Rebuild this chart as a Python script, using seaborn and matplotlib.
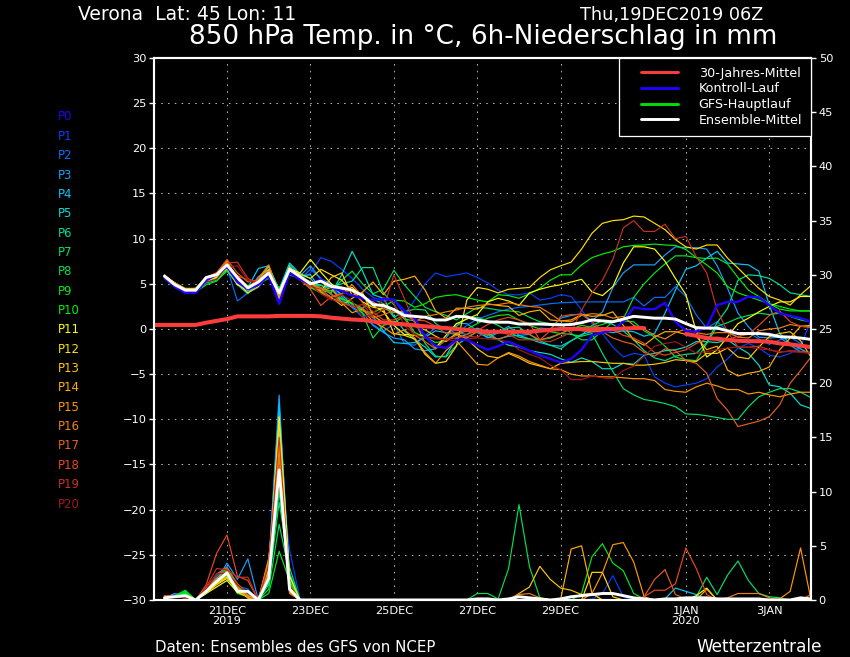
import pandas as pd
import matplotlib
matplotlib.use("Agg")
import matplotlib.pyplot as plt
from matplotlib.lines import Line2D
from matplotlib.legend_handler import HandlerLine2D
import seaborn as sns

# ---------- data ----------
members = ["P%d" % n for n in range(21)]
member_colors = ["#2000f0", "#0040ff", "#0070ff", "#1a9fff", "#00c8ff", "#00e0d0", "#00e090",
                 "#00e068", "#00e050", "#00e820", "#00f000", "#ffff00", "#ffe000", "#ffc800",
                 "#ffb000", "#ff9800", "#f08010", "#e86018", "#e84820", "#c83020", "#a01818"]

p0 = [5.7,4.7,4.0,4.0,5.4,6.0,6.9,5.2,4.4,4.9,5.9,2.8,6.2,5.5,
      5.0,5.5,4.6,4.2,3.7,3.4,3.2,3.3,3.25,2.0,1.2,-0.8,-1.9,-2.1,-1.2,-1.2,-1.8,
      -2.3,-1.9,-1.4,-1.9,-2.4,-2.9,-3.3,-3.7,-3.3,-2.3,-0.7,-0.4,-0.1,0.8,2.4,2.2,2.2,2.9,0.8,-0.2,-0.3,0.25,2.65,3.0,3.0,3.6,3.5,2.65,1.75,1.45,1.2,0.8]
p1 = [5.6,4.7,4.1,4.1,5.4,6.0,7.0,5.0,4.2,4.9,6.0,3.3,6.3,5.4,
      6.2,7.9,7.5,6.6,5.6,4.4,3.5,3.1,3.3,1.6,3.2,5.0,6.2,5.8,6.0,6.2,5.7,
      5.1,4.3,3.8,3.8,4.0,3.2,3.4,3.8,3.6,2.1,0.6,-0.5,-2.0,-3.1,-2.7,-2.9,-5.3,-6.0,-6.4,-6.2,-6.0,-5.5,-4.2,-3.3,-2.1,-1.6,-2.1,-2.9,-3.1,-2.7,-2.0,1.0]
p2 = [5.6,4.6,4.0,4.1,5.3,5.9,6.8,3.1,4.0,4.6,6.0,3.2,6.1,5.5,
      6.6,5.6,4.8,3.2,2.4,1.3,0.5,-0.3,0.6,-1.6,-1.8,-0.7,0.1,0.3,-0.6,0.4,1.1,
      1.5,1.9,2.2,2.4,2.5,2.65,2.8,2.9,2.95,3.0,3.0,3.0,3.0,3.0,3.5,2.55,3.5,3.5,4.7,3.6,1.55,0.1,0.8,-0.2,-0.9,-0.4,-1.1,-1.7,-1.2,-0.9,-1.6,-2.2]
p3 = [5.8,4.8,4.2,4.3,5.5,6.0,7.0,5.6,4.2,5.8,6.6,3.5,6.2,5.9,
      7.0,5.5,5.0,3.6,2.4,1.8,0.4,-0.4,-1.0,-1.2,-2.2,-2.4,-2.2,-1.0,0.6,0.6,-0.2,
      -1.0,-0.4,0.3,-0.7,-0.6,0.1,0.0,1.2,1.5,1.7,0.9,1.9,4.6,6.2,7.1,7.1,7.1,8.2,9.1,9.0,9.0,8.85,7.0,4.5,1.75,0.25,-0.9,-1.0,-0.9,-1.8,-2.5,-2.6]
p4 = [5.8,4.9,4.3,4.3,5.3,5.7,6.6,5.3,4.6,6.7,7.0,4.2,7.1,5.9,
      6.0,4.4,4.8,3.8,2.7,2.2,1.4,-0.2,-1.5,-1.6,-1.5,-0.9,-0.2,-0.4,-0.6,-0.2,-0.4,
      -0.9,-1.1,-0.8,-0.7,-1.1,-1.5,-1.8,-1.9,-1.3,-0.6,-0.3,-0.2,-0.4,-0.2,-0.3,-0.8,-0.5,1.75,4.3,6.6,7.0,7.85,8.6,7.3,7.2,7.1,6.4,2.65,-0.5,-1.6,-2.2,-2.8]
p5 = [5.9,4.9,4.2,4.2,5.2,5.6,6.6,4.9,3.9,5.4,6.9,4.4,7.3,6.1,
      5.6,4.3,4.0,6.0,8.6,6.4,3.8,3.4,1.4,-0.2,-1.2,-2.0,-3.1,-3.0,-1.0,-0.6,0.1,
      -0.4,-1.2,-1.8,-2.0,-2.4,-2.6,-2.8,-3.3,-3.7,-3.2,-3.6,-4.4,-4.4,-3.8,-3.9,-2.9,-2.7,-2.4,-2.3,-2.0,-1.4,-1.4,-1.5,-1.2,-2.0,-2.7,-4.0,-6.2,-6.4,-7.1,-8.4,-8.8]
p6 = [5.9,5.0,4.3,4.2,5.1,5.4,6.4,5.0,4.0,5.0,6.2,4.4,6.8,5.9,
      5.2,4.8,4.6,5.0,5.3,6.8,6.8,4.0,2.7,1.1,0.9,-1.6,-3.0,-3.1,-1.8,-1.0,-0.3,
      -0.7,-0.4,0.1,0.2,-0.6,-1.3,-1.8,-2.2,-1.3,-0.7,0.4,0.9,0.5,-0.2,-1.2,-2.4,-3.2,-3.5,-3.0,-2.8,-2.7,-1.5,0.7,2.3,5.4,6.0,5.9,5.6,4.9,4.0,3.8,3.6]
p7 = [5.9,5.0,4.3,4.3,5.4,5.7,6.8,5.3,4.7,5.2,6.2,4.4,6.2,5.8,
      4.9,4.9,3.8,3.3,2.9,2.3,3.3,2.8,1.3,1.9,2.2,2.1,0.6,-0.1,0.3,1.2,1.3,
      0.9,0.4,-0.3,-0.9,-1.1,-1.2,-1.0,-0.5,-0.6,-0.8,-0.5,-2.7,-4.7,-6.6,-7.3,-7.8,-8.0,-8.25,-8.6,-9.4,-9.45,-9.6,-9.8,-10.0,-10.0,-8.6,-7.5,-7.0,-6.6,-6.6,-7.0,-7.6]
p8 = [5.9,5.0,4.4,4.2,5.2,5.6,6.6,5.5,4.4,5.0,6.0,4.5,6.4,5.6,
      4.7,4.5,4.2,5.4,6.4,5.0,3.9,4.4,6.5,4.9,3.6,2.4,1.9,1.5,1.0,1.7,2.4,
      2.3,2.1,2.0,1.9,1.3,0.8,0.6,0.6,-0.5,-1.2,-1.2,-0.2,0.8,0.9,0.8,-0.2,-0.9,-1.9,-3.1,-3.4,-3.5,-1.6,0.3,0.7,1.2,1.5,1.75,1.6,1.75,1.4,1.0,0.8]
p9 = [5.9,5.0,4.3,4.1,4.9,5.3,6.5,5.2,4.7,5.0,5.6,4.5,6.0,5.6,
      4.6,4.1,3.4,3.0,2.9,1.7,-1.0,0.4,0.7,1.4,-0.4,-0.9,-1.5,-1.3,-0.5,0.0,0.6,
      1.2,1.5,1.6,1.0,0.4,0.0,-0.3,-0.5,0.0,0.4,0.2,0.5,0.9,1.1,3.5,5.0,6.2,7.2,8.1,8.1,7.9,7.8,7.85,7.2,5.7,4.3,3.6,2.8,2.2,2.0,2.0,2.0]
p10 = [5.8,4.9,4.3,4.2,5.5,5.9,7.1,5.7,4.8,5.1,6.4,4.3,6.5,5.7,
       4.6,4.0,4.3,3.4,2.8,2.0,1.8,2.4,3.2,3.1,2.4,2.8,3.5,3.7,3.8,3.5,3.2,
       3.0,3.8,3.7,3.4,3.9,4.5,5.4,6.0,6.0,7.1,7.9,8.3,8.6,9.1,9.25,9.3,9.4,9.3,9.25,8.8,7.9,7.1,6.2,4.7,4.0,3.6,3.2,2.8,2.5,2.2,2.0,2.0]
p11 = [5.9,5.1,4.4,4.5,5.5,5.8,6.9,4.9,4.4,5.0,6.4,4.1,6.7,6.2,
       7.7,6.3,5.0,4.3,4.6,3.6,2.6,1.9,0.4,-0.6,-0.7,-0.7,-2.1,-0.7,0.6,1.1,1.6,
       3.0,3.4,3.1,2.6,4.0,4.4,4.7,4.9,5.2,5.5,4.1,3.7,4.7,7.3,9.1,9.1,8.85,7.5,5.6,3.8,-0.3,-3.1,-2.3,-0.85,0.6,1.2,1.9,2.5,3.0,3.0,3.6,3.6]
p12 = [6.0,5.0,4.3,4.4,5.3,5.7,6.7,5.1,4.0,4.7,6.5,3.8,6.4,6.1,
       5.6,6.6,6.0,5.4,4.2,3.0,2.4,2.2,-0.5,-0.7,-1.1,-2.8,-3.8,-3.6,-1.9,3.2,4.6,
       4.4,4.0,4.4,4.5,4.6,5.7,6.55,7.0,7.4,8.85,10.6,11.7,12.0,12.1,12.5,12.4,11.7,11.0,9.9,9.1,8.85,9.3,9.3,7.85,6.75,5.6,4.5,3.6,3.2,2.65,3.8,4.8]
p13 = [5.9,5.1,4.4,4.4,5.6,6.1,7.3,5.4,4.3,5.2,6.6,3.6,6.9,5.6,
       5.1,4.2,5.7,6.2,3.7,4.0,1.5,0.7,0.8,0.6,0.3,-0.1,-0.8,-1.4,-0.5,-1.1,-2.2,
       -3.0,-3.2,-2.7,-3.2,-3.8,-4.1,-4.4,-3.8,-3.7,-3.6,-3.6,-3.7,-3.8,-3.8,-4.0,-4.0,-3.9,-3.7,-3.4,-3.5,-3.6,-2.7,-2.7,-2.1,-3.1,-3.3,-2.0,-0.85,-0.5,-0.3,-1.3,-3.1]
p14 = [5.8,5.1,4.5,4.5,5.7,6.2,7.5,5.5,4.6,5.4,7.0,3.4,6.7,5.8,
       5.2,4.3,3.5,2.6,3.4,4.1,5.2,3.8,5.3,5.5,5.85,4.3,2.0,1.2,2.3,2.3,2.2,
       2.8,2.6,2.5,1.5,1.9,2.1,1.0,0.9,1.0,1.6,1.4,1.5,1.9,0.4,-1.2,-1.8,-0.9,-0.3,-0.3,-0.6,-0.8,-2.3,-1.9,-4.55,-5.2,-4.9,-4.7,-4.2,-2.3,-1.0,0.3,0.4]
p15 = [5.9,5.1,4.2,4.1,5.6,6.2,7.4,5.5,4.5,5.3,6.3,3.6,6.6,5.9,
       4.7,4.2,4.6,2.9,1.8,2.2,0.8,0.2,-0.6,-0.1,-1.0,-2.6,-3.8,-2.4,-1.3,-2.6,-3.9,
       -4.0,-3.2,-2.6,-3.0,-3.6,-4.0,-4.4,-4.5,-5.0,-5.2,-5.2,-5.3,-5.3,-5.4,-5.5,-5.5,-5.7,-6.7,-6.9,-7.0,-6.4,-6.0,-6.3,-6.7,-6.7,-7.2,-7.0,-7.3,-7.5,-7.2,-7.0,-7.0]
p16 = [5.8,5.0,4.1,4.0,5.5,5.9,7.6,5.4,4.6,5.6,7.1,3.9,6.5,5.7,
       4.9,4.0,3.5,3.9,4.9,3.6,3.0,2.3,1.8,2.0,0.8,1.4,1.6,1.9,2.1,2.4,2.6,
       2.7,2.7,2.9,2.7,2.5,2.4,1.7,0.9,0.8,1.5,1.7,1.6,1.2,1.4,0.4,0.0,-0.7,-1.1,-0.4,0.0,-0.4,-0.6,-0.4,-0.4,-0.9,-1.0,-0.2,0.0,0.1,0.5,0.3,0.2]
p17 = [5.8,5.0,4.2,4.3,5.7,6.2,7.7,6.2,5.2,5.4,6.4,4.1,6.6,5.7,
       4.8,4.6,3.9,2.9,2.5,2.3,1.2,1.6,2.0,1.2,-0.7,-1.4,-2.2,-1.2,-0.7,-0.9,-0.3,
       -0.6,-1.2,-0.7,-0.3,-0.6,-1.2,-0.9,-0.5,0.0,-0.2,-0.3,-0.3,-1.0,-1.4,-1.7,-2.6,-3.0,-2.2,-2.4,-3.5,-3.8,-4.9,-7.7,-9.0,-10.8,-10.5,-10.2,-9.7,-8.4,-6.0,-4.6,-3.1]
p18 = [5.8,4.9,4.2,4.3,5.4,5.9,7.2,5.9,5.4,5.3,6.1,3.9,6.7,5.5,
       4.4,2.6,3.6,3.9,4.4,2.9,1.9,1.0,1.0,1.5,1.0,0.9,0.3,-0.5,-0.4,-0.6,-0.2,
       0.5,1.0,1.3,1.0,0.6,-1.2,-0.2,1.4,1.6,1.6,0.8,-0.2,-0.1,-0.7,-1.0,-1.6,-2.6,-2.9,-2.6,-2.3,-1.6,-1.1,-0.9,-1.2,-0.8,-0.6,0.4,1.5,2.0,0.8,0.3,0.2]
p19 = [5.7,4.8,4.2,4.3,5.5,6.1,7.3,7.4,5.6,5.0,6.2,4.1,6.3,5.5,
       4.7,4.4,3.3,2.9,2.5,2.7,1.4,2.2,6.0,3.4,0.6,-0.9,-1.0,-1.1,-1.0,-0.8,-0.9,
       -0.3,-0.3,-0.6,-1.2,-1.2,-1.3,-1.4,-0.9,-0.4,2.1,4.0,5.4,7.7,11.2,12.0,10.8,10.8,11.6,10.0,10.25,8.0,6.2,2.1,-0.3,-2.0,-2.0,-1.9,-2.3,-2.6,-2.4,-2.5,-2.6]
p20 = [5.7,4.8,4.1,4.2,5.2,5.5,6.9,7.0,5.4,5.1,6.1,4.2,6.3,5.4,
       4.9,3.9,3.2,3.8,3.1,1.3,1.6,3.5,2.9,0.4,-0.6,-1.0,-1.1,-1.2,-1.3,-1.1,-1.0,
       -1.1,-1.2,-1.4,-2.3,-2.8,-3.2,-4.0,-4.5,-5.6,-5.6,-5.2,-5.4,-5.5,-4.6,-4.1,-3.0,-1.9,-1.6,-1.4,-2.0,-2.7,-2.5,-2.3,-2.1,-2.0,-2.0,-2.2,-2.3,-2.5,-2.5,-2.6,-2.7]
temps = [p0,p1,p2,p3,p4,p5,p6,p7,p8,p9,p10,p11,p12,p13,p14,p15,p16,p17,p18,p19,p20]

ens_mean = [5.85,4.9,4.3,4.3,5.7,6.0,7.1,5.7,4.55,5.2,6.2,4.0,6.6,5.8,
            5.0,5.3,4.7,4.55,4.3,3.7,2.7,2.6,2.15,1.5,1.4,1.3,1.0,1.0,1.4,1.35,1.0,
            0.8,0.75,0.75,0.55,0.55,0.55,0.5,0.45,0.5,0.7,1.0,0.9,0.8,1.1,1.4,1.3,1.2,1.2,1.1,0.6,0.15,0.1,0.1,-0.2,-0.5,-0.5,-0.5,-0.6,-0.85,-0.9,-1.0,-1.15]

# climate line starts one step earlier and has a hole around new year
clim_first = [0.45,0.45,0.45,0.45,0.45,0.7,0.9,1.1,1.4,1.4,1.4,1.4,1.45,1.45,1.45,1.45,1.4,1.25,1.15,1.05,1.0,
              0.85,0.7,0.6,0.5,0.4,0.3,0.2,0.1,0.0,-0.1,-0.2,-0.3,-0.3,-0.3,-0.3,-0.3,-0.2,-0.1,0.0,0.0,0.0,
              0.0,0.0,0.0,0.05,0.1,0.1]
clim_second = [-0.55,-0.75,-1.0,-1.1,-1.2,-1.3,-1.35,-1.35,-1.4,-1.6,-1.7,-1.85,-2.0]

# precipitation: first 14 steps, 15 dry steps, last 34 steps
rain_early = [
    [.3,.4,.1,0,1.0,1.9,2.6,1.0,.7,0,3.0,15.5,1.5,0],
    [.2,.5,.3,0,.9,2.2,3.0,1.2,.5,0,3.6,13,4.6,.1],
    [.2,.3,.6,0,.8,2.2,3.1,1.3,1.0,0,3.4,17.5,2.5,0],
    [.2,.6,.4,0,.7,1.8,3.4,1.9,3.8,0,3.0,18.9,1.2,0],
    [.2,.4,.3,0,.6,1.5,2.0,.9,.6,0,2.6,18,2.2,0],
    [.3,.4,.4,0,.6,1.6,2.2,1.0,.3,0,2.8,16,1.0,0],
    [.2,.3,.5,0,.7,1.7,2.4,1.2,.2,0,1.6,10,1.6,0],
    [.2,.3,.7,0,.8,1.8,2.6,1.3,.5,0,1.4,9,3.0,0],
    [.3,.4,.9,0,.8,1.7,2.4,1.1,.4,0,1.0,7,2.4,0],
    [.2,.3,.8,0,.7,1.6,2.2,.6,.3,0,.6,4.5,1.8,0],
    [.3,.4,.6,0,.9,2.0,2.9,1.4,.2,0,1.8,10.5,1.5,0],
    [.2,.3,.3,0,.6,1.2,1.8,.7,.3,0,2.0,16.9,2.2,0],
    [.3,.3,.4,0,.7,1.4,2.0,1.0,.2,0,2.4,16.5,.8,0],
    [.2,.4,.4,0,.7,1.5,2.1,1.1,.3,0,2.6,15.5,1.0,0],
    [.4,.3,.2,0,.8,1.6,2.3,.9,.2,0,3.0,14.5,.7,0],
    [.3,.4,.2,0,.9,1.8,2.5,1.0,.4,0,3.6,14,.9,0],
    [.4,.4,.3,0,1.0,2.0,2.7,1.2,.3,0,3.9,13,.6,0],
    [.3,.4,.2,0,1.1,2.4,3.0,1.5,.6,0,3.4,12.5,1.0,0],
    [.4,.4,.3,0,1.4,4.3,6.0,2.2,1.8,0,2.4,12,1.2,0],
    [.3,.3,.3,0,1.2,2.9,2.8,2.1,2.1,0,3.2,15,1.4,0],
    [.2,.3,.2,0,1.0,2.4,2.5,1.4,.6,0,2.2,11,.9,0],
]
dry_gap = [0] * 15
no_rain = [0] * 34
rain_late = {
    "P1":  [0,0,0,0,0,0,0,0,0,0,0,0,.1,.6,2.25,.3,0, 0,0,0,0,0,0,0,0,0,0,0,0,0,0,0,0,0],
    "P4":  [0,0,0,0,0,0,0,0,0,0,0,0,0,0,0,0,0, 0,0,.1,1.1,.8,.5,0,0,0,0,0,0,0,0,0,0,0],
    "P7":  [0,0,0,0,0,0,0,0,0,0,0,0,0,0,0,0,0, 0,0,0,0,0,.3,2.1,.5,2.3,3.6,1.8,.6,.3,.2,0,0,0],
    "P8":  [0,.6,.6,.1,2.9,8.8,3.1,.2,0,0,0,0,0,0,0,0,0, 0,0,0,0,0,0,0,0,0,0,0,0,0,0,0,0,0],
    "P9":  [0,0,0,0,0,0,0,0,0,0,0,.6,4.0,5.2,3.4,2.7,.6, .1,0,0,0,0,0,0,0,0,0,0,0,0,0,0,0,0],
    "P11": [0,0,0,0,0,0,0,0,0,0,0,0,0,0,0,0,0, 0,0,0,0,0,.4,1.1,0,0,0,0,0,0,0,0,0,0],
    "P12": [0,0,0,0,0,0,0,0,0,0,0,0,2.55,2.55,.3,0,0, 0,0,0,0,0,0,0,0,0,0,0,0,0,0,0,0,0],
    "P13": [0,0,0,0,0,.6,1.2,3.1,1.9,1.1,.9,.5,.6,0,0,0,0, 0,0,0,0,0,0,0,0,0,0,0,0,0,0,0,0,0],
    "P14": [0,0,0,0,0,0,0,0,0,.1,4.7,5.0,.6,0,0,0,0, 0,0,0,0,0,0,1.0,0,0,0,0,0,0,0,0,0,0],
    "P15": [0,0,0,0,0,0,0,0,0,0,0,0,.6,2.5,5.1,5.3,3.5, .3,0,0,0,0,0,0,0,0,0,0,0,0,.1,.8,4.8,0],
    "P16": [0,0,0,0,0,.5,.6,.2,0,0,0,0,0,0,0,0,0, 0,0,0,0,0,0,0,0,.2,.6,.6,.6,.2,0,0,0,.5],
    "P17": [0,0,0,0,0,0,0,0,0,0,0,0,0,0,0,0,0, .3,1.9,2.8,.5,.1,0,0,0,0,0,0,0,0,0,0,0,0],
    "P18": [0,0,0,0,0,0,0,0,0,0,0,0,0,0,0,0,0, .3,.9,.9,1.5,4.8,2.9,.5,0,0,0,0,0,0,0,0,0,0],
}
rain_mean_early = [.2,.3,.4,0,.8,1.7,2.5,.8,.8,0,2.0,12,1.0,0]
rain_mean_late = [0,.1,.1,0,.1,.3,.2,.1,0,.1,.3,.4,.5,.6,.6,.4,.2, .1,0,.1,.1,.2,.2,.2,.1,.1,.1,.1,.1,0,0,0,.2,.1]

y_ticks_left = [-30,-25,-20,-15,-10,-5,0,5,10,15,20,25,30]
y_ticks_right = [0,5,10,15,20,25,30,35,40,45,50]
tick_dates = ["2019-12-21","2019-12-23","2019-12-25","2019-12-27","2019-12-29","2020-01-01","2020-01-03"]
tick_labels = ["21DEC\n2019","23DEC","25DEC","27DEC","29DEC","1JAN\n2020","3JAN"]

clim_color = "#ff3c3c"
ctrl_color = "#2000ff"
gfs_color = "#00e000"

# ---------- frames ----------
dates = pd.date_range("2019-12-19 12:00", periods=63, freq="6h")
temp_df = pd.DataFrame(dict(zip(members, temps)), index=dates).rename_axis("date").reset_index()
temp_long = temp_df.melt(id_vars="date", var_name="member", value_name="temp")

rain_rows = {}
for m, early in zip(members, rain_early):
    rain_rows[m] = early + dry_gap + rain_late.get(m, no_rain)
rain_df = pd.DataFrame(rain_rows, index=dates).rename_axis("date").reset_index()
rain_long = rain_df.melt(id_vars="date", var_name="member", value_name="rain")
rain_mean = rain_mean_early + dry_gap + rain_mean_late

# ---------- figure ----------
sns.set_theme(style="dark", rc={"figure.facecolor": "black", "axes.facecolor": "black",
                                "savefig.facecolor": "black", "text.color": "white",
                                "axes.edgecolor": "white", "xtick.color": "white", "ytick.color": "white"})
plt.rcParams["font.family"] = ["DejaVu Sans"]

fig = plt.figure(figsize=(8.5, 6.57), dpi=100)
ax = fig.add_axes([154/850, 1-600/657, (811-154)/850, (600-58)/657])
ax2 = ax.twinx()

thin = 0.85
sns.lineplot(data=temp_long, x="date", y="temp", hue="member", hue_order=members, palette=member_colors,
             estimator=None, legend=False, ax=ax, linewidth=thin)
sns.lineplot(x=dates, y=p0, color=ctrl_color, linewidth=1.7, ax=ax, zorder=3, estimator=None)
sns.lineplot(x=dates, y=ens_mean, color="white", linewidth=2.1, ax=ax, zorder=5, estimator=None)
clim_dates = pd.date_range("2019-12-19 06:00", periods=len(clim_first), freq="6h")
sns.lineplot(x=clim_dates, y=clim_first, color=clim_color, linewidth=2.9, ax=ax, zorder=4, estimator=None)
sns.lineplot(x=dates[-len(clim_second):], y=clim_second, color=clim_color, linewidth=2.9, ax=ax, zorder=4,
             estimator=None)

sns.lineplot(data=rain_long, x="date", y="rain", hue="member", hue_order=members, palette=member_colors,
             estimator=None, legend=False, ax=ax2, linewidth=thin)
sns.lineplot(x=dates, y=rain_mean, color="white", linewidth=2.1, ax=ax2, zorder=5, estimator=None)

ax.set_xlim(pd.Timestamp("2019-12-19 06:00"), pd.Timestamp("2020-01-04 00:00"))
ax.set_ylim(-30, 30)
ax2.set_ylim(0, 50)
ax.set_xlabel("")
ax.set_ylabel("")
ax2.set_xlabel("")
ax2.set_ylabel("")

ax.set_yticks(y_ticks_left)
ax2.set_yticks(y_ticks_right)
ax.set_xticks(pd.to_datetime(tick_dates))
ax.set_xticklabels(tick_labels, fontsize=8.2, linespacing=1.05)
ax.tick_params(axis="x", length=0, pad=4)
ax.tick_params(axis="y", length=3.5, width=1, labelsize=8.2, pad=2, left=True)
ax2.tick_params(axis="y", length=3.5, width=1, labelsize=8.2, pad=2, right=True)

ax.grid(True, color="#b0b0b0", linewidth=0.75, linestyle=(0, (1.5, 5)))
ax.set_axisbelow(True)
ax2.grid(False)
for a in (ax, ax2):
    for spine in a.spines.values():
        spine.set_color("white")
        spine.set_linewidth(1.5)

# legend box
handles = [Line2D([], [], color=clim_color, lw=2.1), Line2D([], [], color=ctrl_color, lw=2.1),
           Line2D([], [], color=gfs_color, lw=2.1), Line2D([], [], color="white", lw=2.1)]
leg_labels = ["30-Jahres-Mittel", "Kontroll-Lauf", "GFS-Hauptlauf", "Ensemble-Mittel"]
leg = ax2.legend(handles, leg_labels, loc="upper right", bbox_to_anchor=(1, 1), borderaxespad=0,
                 fontsize=9.2, frameon=True, fancybox=False, facecolor="black", edgecolor="white",
                 framealpha=1, numpoints=2, handler_map={Line2D: HandlerLine2D(marker_pad=1.0)},
                 handlelength=4.9, handletextpad=0.6, labelspacing=0.2,
                 borderpad=0.7, labelcolor="white", alignment="left")
leg.get_frame().set_linewidth(0.9)
leg.set_zorder(20)

# header, member labels, footer
fig.text(78/850, 1-15/657, "Verona  Lat: 45 Lon: 11", fontsize=13.5, va="center", ha="left")
fig.text(580/850, 1-15/657, "Thu,19DEC2019 06Z", fontsize=12.7, va="center", ha="left")
fig.text(189/850, 1-37/657, "850 hPa Temp. in °C, 6h-Niederschlag in mm", fontsize=18.9, va="center", ha="left")
fig.text(155/850, 1-647/657, "Daten: Ensembles des GFS von NCEP", fontsize=10.8, va="center", ha="left")
fig.text(696/850, 1-647/657, "Wetterzentrale", fontsize=12.2, va="center", ha="left")

for k, (m, c) in enumerate(zip(members, member_colors)):
    fig.text(58/850, 1-(117 + 19.35*k)/657, m, color=c, fontsize=8.5, va="center", ha="left")

fig.savefig("out.png", dpi=100)
